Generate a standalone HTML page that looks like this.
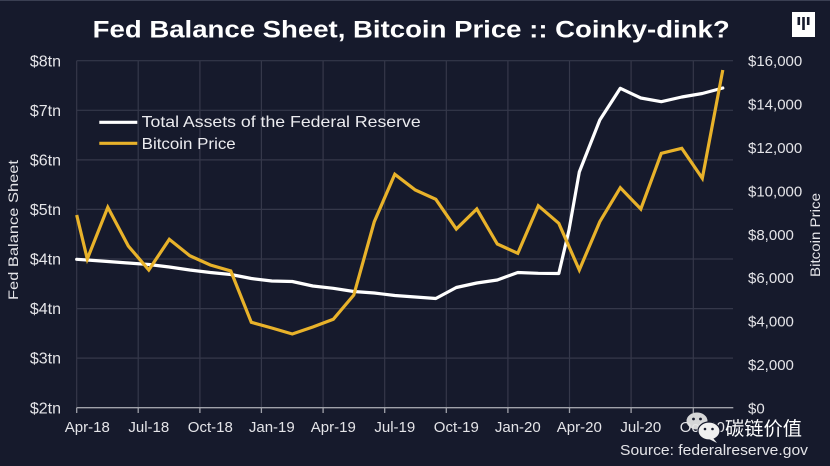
<!DOCTYPE html>
<html><head><meta charset="utf-8"><style>
html,body{margin:0;padding:0;background:#161a2c;}
svg{display:block;}
</style></head><body>
<svg width="830" height="466" viewBox="0 0 830 466" xmlns="http://www.w3.org/2000/svg" font-family="Liberation Sans, sans-serif">
<rect x="0" y="0" width="830" height="466" fill="#161a2c"/>
<rect x="0" y="0" width="830" height="1" fill="#3a3f52"/>
<!-- title -->
<text x="92.7" y="37.5" font-size="24" font-weight="bold" fill="#ffffff" textLength="637" lengthAdjust="spacingAndGlyphs">Fed Balance Sheet, Bitcoin Price :: Coinky-dink?</text>
<!-- logo -->
<rect x="792" y="12" width="23" height="25" fill="#ffffff"/>
<rect x="797.5" y="17" width="2.6" height="8" fill="#161a2c"/>
<rect x="802.2" y="17" width="2.6" height="13" fill="#161a2c"/>
<rect x="806.9" y="17" width="2.6" height="8" fill="#161a2c"/>
<!-- horizontal gridlines -->
<g stroke="#35384a" stroke-width="1.2">
<line x1="76.7" y1="60.7" x2="733" y2="60.7"/>
<line x1="76.7" y1="110.3" x2="733" y2="110.3"/>
<line x1="76.7" y1="159.9" x2="733" y2="159.9"/>
<line x1="76.7" y1="209.4" x2="733" y2="209.4"/>
<line x1="76.7" y1="259" x2="733" y2="259"/>
<line x1="76.7" y1="308.6" x2="733" y2="308.6"/>
<line x1="76.7" y1="358.1" x2="733" y2="358.1"/>
</g>
<!-- vertical gridlines -->
<g stroke="#35384a" stroke-width="1.2">
<line x1="76.7" y1="60.7" x2="76.7" y2="407.7"/>
<line x1="138.2" y1="60.7" x2="138.2" y2="407.7"/>
<line x1="199.9" y1="60.7" x2="199.9" y2="407.7"/>
<line x1="261.4" y1="60.7" x2="261.4" y2="407.7"/>
<line x1="323.1" y1="60.7" x2="323.1" y2="407.7"/>
<line x1="384.7" y1="60.7" x2="384.7" y2="407.7"/>
<line x1="446.3" y1="60.7" x2="446.3" y2="407.7"/>
<line x1="507.9" y1="60.7" x2="507.9" y2="407.7"/>
<line x1="569.5" y1="60.7" x2="569.5" y2="407.7"/>
<line x1="631.1" y1="60.7" x2="631.1" y2="407.7"/>
<line x1="693.3" y1="60.7" x2="693.3" y2="407.7"/>
</g>
<!-- x axis -->
<g stroke="#a0a2aa" stroke-width="1.3">
<line x1="76.7" y1="407.7" x2="733.3" y2="407.7"/>
<line x1="76.7" y1="407.7" x2="76.7" y2="413"/>
<line x1="138.2" y1="407.7" x2="138.2" y2="413"/>
<line x1="199.9" y1="407.7" x2="199.9" y2="413"/>
<line x1="261.4" y1="407.7" x2="261.4" y2="413"/>
<line x1="323.1" y1="407.7" x2="323.1" y2="413"/>
<line x1="384.7" y1="407.7" x2="384.7" y2="413"/>
<line x1="446.3" y1="407.7" x2="446.3" y2="413"/>
<line x1="507.9" y1="407.7" x2="507.9" y2="413"/>
<line x1="569.5" y1="407.7" x2="569.5" y2="413"/>
<line x1="631.1" y1="407.7" x2="631.1" y2="413"/>
<line x1="693.3" y1="407.7" x2="693.3" y2="413"/>
</g>
<!-- left tick labels -->
<g font-size="16" fill="#e4e4e8" text-anchor="end">
<text x="61" y="66.5">$8tn</text>
<text x="61" y="116">$7tn</text>
<text x="61" y="165.5">$6tn</text>
<text x="61" y="215">$5tn</text>
<text x="61" y="264.6">$4tn</text>
<text x="61" y="314.2">$4tn</text>
<text x="61" y="363.7">$3tn</text>
<text x="61" y="413.3">$2tn</text>
</g>
<!-- right tick labels -->
<g font-size="15" fill="#e4e4e8">
<text x="748" y="66.2">$16,000</text>
<text x="748" y="109.6">$14,000</text>
<text x="748" y="153">$12,000</text>
<text x="748" y="196.4">$10,000</text>
<text x="748" y="239.8">$8,000</text>
<text x="748" y="283.2">$6,000</text>
<text x="748" y="326.6">$4,000</text>
<text x="748" y="370">$2,000</text>
<text x="748" y="413.3">$0</text>
</g>
<!-- axis titles -->
<text transform="translate(18,230) rotate(-90)" text-anchor="middle" font-size="14" fill="#e4e4e8" textLength="140" lengthAdjust="spacingAndGlyphs">Fed Balance Sheet</text>
<text transform="translate(820,235) rotate(-90)" text-anchor="middle" font-size="14" fill="#e4e4e8" textLength="84" lengthAdjust="spacingAndGlyphs">Bitcoin Price</text>
<!-- x labels -->
<g font-size="15" fill="#e4e4e8" text-anchor="middle">
<text x="87.3" y="432">Apr-18</text>
<text x="148.8" y="432">Jul-18</text>
<text x="210.3" y="432">Oct-18</text>
<text x="271.8" y="432">Jan-19</text>
<text x="333.3" y="432">Apr-19</text>
<text x="394.8" y="432">Jul-19</text>
<text x="456.3" y="432">Oct-19</text>
<text x="517.8" y="432">Jan-20</text>
<text x="579.3" y="432">Apr-20</text>
<text x="640.8" y="432">Jul-20</text>
<text x="702.3" y="432">Oct-20</text>
</g>
<!-- legend -->
<line x1="99.3" y1="122.3" x2="137.3" y2="122.3" stroke="#ffffff" stroke-width="3.2"/>
<line x1="99.3" y1="143.3" x2="137.3" y2="143.3" stroke="#e8b22a" stroke-width="3.2"/>
<text x="141.7" y="127" font-size="16" fill="#ececf0" textLength="279" lengthAdjust="spacingAndGlyphs">Total Assets of the Federal Reserve</text>
<text x="141.7" y="149" font-size="16" fill="#ececf0" textLength="94" lengthAdjust="spacingAndGlyphs">Bitcoin Price</text>
<!-- white series -->
<polyline fill="none" stroke="#ffffff" stroke-width="3.2" stroke-linejoin="round" stroke-linecap="round"
points="76.7,259.3 87.3,260 107.8,261.5 128.3,263 148.8,264.5 169.3,267 189.8,270 210.3,272.5 230.8,274.5 251.3,278.5 271.8,281 292.3,281.5 312.8,286 333.3,288.3 353.8,291.5 374.3,293 394.8,295.5 415.3,297 435.8,298.5 456.3,287.5 476.8,283 497.3,280 517.8,272.5 538.3,273.3 558.8,273.5 569,230 579.3,172 599.8,120 620.3,88.3 640.8,98 661.3,101.7 681.8,97 702.3,93.5 722.8,88"/>
<!-- yellow series -->
<polyline fill="none" stroke="#e8b22a" stroke-width="3.2" stroke-linejoin="miter" stroke-linecap="butt"
points="76.7,215 87.3,259 107.8,207.3 128.3,246 148.8,270 169.3,239.3 189.8,255.7 210.3,265 230.8,271 251.3,322.3 271.8,328 292.3,334 312.8,327 333.3,319.3 353.8,295 374.3,221.7 394.8,174.3 415.3,190 435.8,199.3 456.3,229 476.8,209 497.3,244 517.8,253.3 538.3,205.7 558.8,223.3 579.3,270 599.8,221.7 620.3,187.7 640.8,209 661.3,153.3 681.8,148.3 702.3,178.3 722.8,70"/>
<!-- watermark -->
<g>
<ellipse cx="697" cy="421" rx="10.5" ry="8.5" fill="#e6e6e6" fill-opacity="0.92"/>
<circle cx="693.5" cy="419" r="1.4" fill="#161a2c"/>
<circle cx="700.5" cy="419" r="1.4" fill="#161a2c"/>
<ellipse cx="709" cy="431" rx="11" ry="9" fill="#f0f0f0" stroke="#161a2c" stroke-width="1.2"/>
<circle cx="705" cy="429" r="1.3" fill="#161a2c"/>
<circle cx="712.5" cy="429" r="1.3" fill="#161a2c"/>
<polygon points="713,438 717,443 709,439" fill="#f0f0f0"/>
</g>
<text x="725" y="435" font-size="19" fill="#ffffff" font-family="Liberation Sans, Noto Sans CJK SC, sans-serif" textLength="77" lengthAdjust="spacingAndGlyphs">碳链价值</text>
<text x="620" y="455" font-size="15" fill="#e4e4e8" textLength="188" lengthAdjust="spacingAndGlyphs">Source: federalreserve.gov</text>
</svg>
</body></html>
